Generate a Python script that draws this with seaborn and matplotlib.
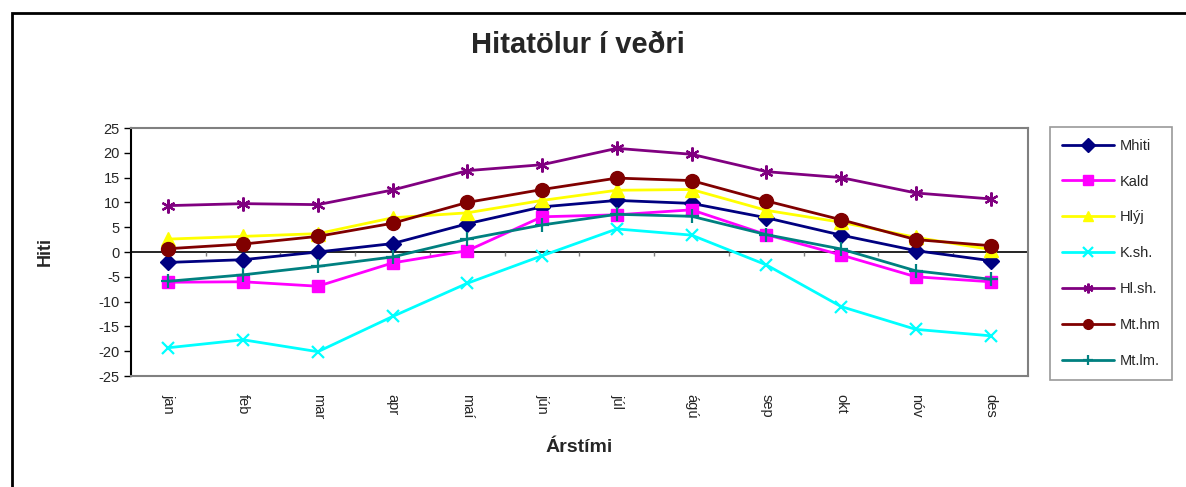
import matplotlib
matplotlib.use("Agg")
import matplotlib.pyplot as plt
import seaborn as sns
import pandas as pd
import numpy as np
from matplotlib.patches import Rectangle

months = ["jan", "feb", "mar", "apr", "maí", "jún", "júl", "ágú", "sep", "okt", "nóv", "des"]
mhiti = [-2.1, -1.55, 0.0, 1.7, 5.7, 9.1, 10.4, 9.8, 6.9, 3.4, 0.27, -1.75]
kald = [-6.1, -6.0, -6.9, -2.2, 0.27, 7.1, 7.5, 8.5, 3.5, -0.6, -5.0, -6.0]
hlyj = [2.6, 3.15, 3.7, 6.9, 7.9, 10.4, 12.45, 12.6, 8.4, 6.0, 2.95, 0.5]
ksh = [-19.3, -17.7, -20.1, -13.0, -6.3, -0.75, 4.65, 3.4, -2.6, -11.0, -15.6, -16.9]
hlsh = [9.35, 9.75, 9.55, 12.5, 16.4, 17.6, 20.9, 19.7, 16.2, 15.0, 11.9, 10.7]
mthm = [0.67, 1.6, 3.15, 5.8, 10.0, 12.6, 14.9, 14.4, 10.3, 6.5, 2.5, 1.27]
mtlm = [-5.9, -4.6, -2.9, -1.0, 2.6, 5.45, 7.6, 7.2, 3.5, 0.6, -3.8, -5.5]

series_names = ["Mhiti", "Kald", "Hlýj", "K.sh.", "Hl.sh.", "Mt.hm", "Mt.lm."]
series_values = [mhiti, kald, hlyj, ksh, hlsh, mthm, mtlm]
colors = ["#000080", "#FF00FF", "#FFFF00", "#00FFFF", "#800080", "#800000", "#008080"]
markers = ["D", "s", "^", "x", (6, 2, 0), "o", "+"]
msizes = [8, 9, 10, 9, 10, 10, 10]

sns.set_style("white")
plt.rcParams["font.family"] = ["Liberation Sans", "DejaVu Sans"]
plt.rcParams["axes.unicode_minus"] = False

fig = plt.figure(figsize=(11.86, 4.87), dpi=100)
W, H = 1186, 487
ax = fig.add_axes([131 / W, 1 - 376 / H, (1028 - 131) / W, (376 - 128) / H])

idx = np.arange(len(months))
for name, vals, c, m, ms in zip(series_names, series_values, colors, markers, msizes):
    df = pd.DataFrame({"x": idx, "y": vals})
    sns.lineplot(data=df, x="x", y="y", ax=ax, color=c, marker=m, markersize=ms,
                 linewidth=2, markeredgecolor=c,
                 markeredgewidth=1.6 if m in ("x", "+") or isinstance(m, tuple) else 1,
                 label=name)

ax.set_xlim(-0.5, len(months) - 0.5)
ax.set_ylim(-25, 25)
ax.set_yticks(np.arange(-25, 26, 5))
ax.set_xticks(idx)
ax.set_xticklabels(months, rotation=270, fontsize=10.5)
ax.tick_params(axis="x", length=0, pad=13)
ax.tick_params(axis="y", left=True, length=5, width=1, color="black", labelsize=10.5, pad=3)

ax.axhline(0, color="black", linewidth=1.2, zorder=1)
ax.vlines(np.arange(0.5, len(months) - 0.5, 1.0), -0.9, 0, color="#808080", linewidth=1, zorder=1)

for s in ["top", "right", "bottom"]:
    ax.spines[s].set_color("#808080")
    ax.spines[s].set_linewidth(1.5)
ax.spines["left"].set_color("black")
ax.spines["left"].set_linewidth(1.5)

ax.set_xlabel("Árstími", fontsize=14, fontweight="bold", labelpad=14)
ax.set_ylabel("Hiti", fontsize=13, fontweight="bold", labelpad=32)

fig.text(578 / W, 1 - 45 / H, "Hitatölur í veðri", ha="center", va="center",
         fontsize=21, fontweight="bold")

leg = ax.legend(loc="upper left", bbox_to_anchor=(1050 / W, 1 - 127 / H),
                bbox_transform=fig.transFigure, fontsize=10.5, frameon=True,
                fancybox=False, edgecolor="#808080", labelspacing=1.5,
                handlelength=3.6, borderpad=0.8, handletextpad=0.4, borderaxespad=0)
leg.get_frame().set_linewidth(1.2)
for h in leg.legend_handles:
    h.set_markersize(7)

fig.add_artist(Rectangle((12 / W, -0.05), 1.1, 1 - 13 / H + 0.05, transform=fig.transFigure,
                         fill=False, edgecolor="black", linewidth=2))

fig.savefig("out.png", dpi=100)
